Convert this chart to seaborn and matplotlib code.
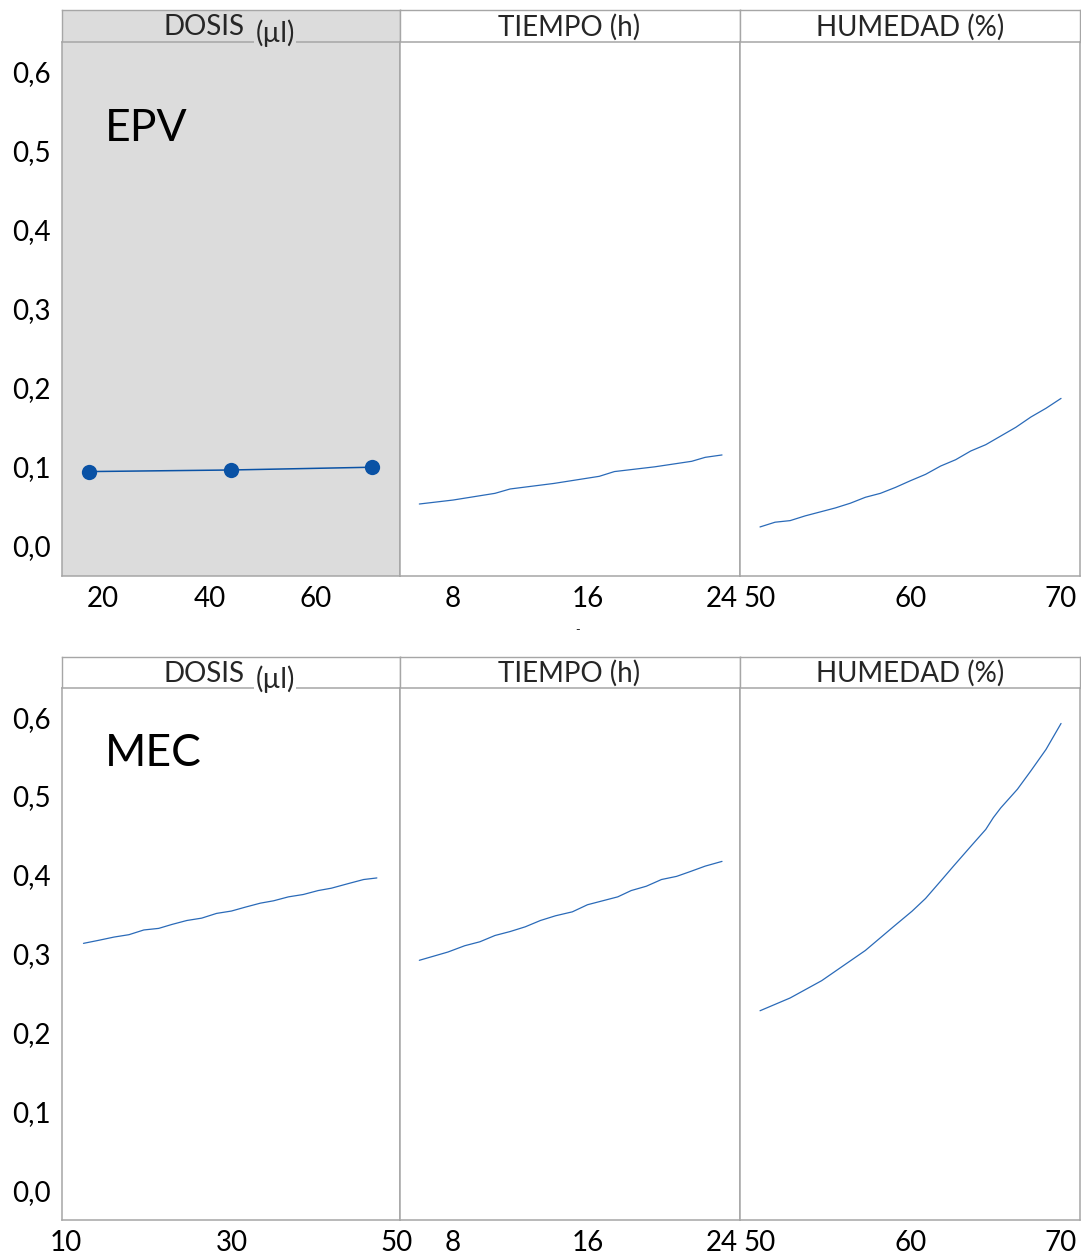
import matplotlib
matplotlib.use("Agg")
import matplotlib.pyplot as plt
import matplotlib.ticker as mticker
import pandas as pd
import seaborn as sns

# ---- data ----
# EPV row
epv_dosis_x = [17.4, 44.0, 70.6]
epv_dosis_y = [0.094, 0.096, 0.0995]

epv_tiempo_x = [6.0, 8.0, 10.5, 11.4, 14.0, 16.7, 17.6, 20.0, 22.2, 23.0, 24.0]
epv_tiempo_y = [0.053, 0.058, 0.0665, 0.072, 0.079, 0.088, 0.094, 0.100, 0.107, 0.112, 0.115]

epv_humedad_x = [50, 51, 52, 53, 54, 55, 56, 57, 58, 59, 60, 61, 62, 63, 64, 65, 66, 67, 68, 69, 70]
epv_humedad_y = [0.024, 0.030, 0.032, 0.038, 0.043, 0.048, 0.054, 0.0615, 0.0665, 0.074, 0.0825,
                 0.0905, 0.101, 0.109, 0.120, 0.128, 0.139, 0.150, 0.163, 0.174, 0.1865]

# MEC row
mec_dosis_x = [12.1, 14.0, 15.8, 17.6, 19.4, 21.2, 22.8, 24.6, 26.4, 28.2, 30.0,
               31.7, 33.5, 35.1, 36.9, 38.7, 40.5, 42.1, 44.2, 46.0, 47.6]
mec_dosis_y = [0.313, 0.317, 0.321, 0.324, 0.330, 0.332, 0.337, 0.342, 0.345, 0.351, 0.354,
               0.359, 0.364, 0.367, 0.372, 0.375, 0.380, 0.383, 0.389, 0.394, 0.396]

mec_tiempo_x = [6.0, 7.7, 8.7, 9.6, 10.5, 11.4, 12.3, 13.2, 14.1, 15.1, 16.0,
                16.9, 17.8, 18.6, 19.5, 20.4, 21.3, 22.1, 23.0, 24.0]
mec_tiempo_y = [0.2915, 0.302, 0.310, 0.315, 0.323, 0.328, 0.334, 0.342, 0.348, 0.353, 0.362,
                0.367, 0.372, 0.380, 0.3855, 0.394, 0.398, 0.404, 0.411, 0.417]

mec_humedad_x = [50, 52, 54.1, 57, 58.9, 60.1, 61, 62, 62.9, 64, 65, 65.5, 66, 67.1, 68, 69, 70]
mec_humedad_y = [0.2275, 0.2437, 0.2657, 0.304, 0.3347, 0.3538, 0.370, 0.392, 0.412, 0.436,
                 0.4576, 0.4725, 0.485, 0.5085, 0.532, 0.559, 0.592]

panel_titles = ["DOSIS", "TIEMPO (h)", "HUMEDAD (%)"]
row_labels = ["EPV", "MEC"]
y_ticks = [0.0, 0.1, 0.2, 0.3, 0.4, 0.5, 0.6]
x_ticks = {
    "epv": [[20, 40, 60], [8, 16, 24], [50, 60, 70]],
    "mec": [[10, 30, 50], [8, 16, 24], [50, 60, 70]],
}
x_lims = {
    "epv": [(12.3, 75.8), (4.85, 25.07), (48.67, 71.26)],
    "mec": [(9.5, 50.4), (4.85, 25.07), (48.67, 71.26)],
}

# ---- style ----
sns.set_theme(style="white")
plt.rcParams["font.family"] = ["Lato", "DejaVu Sans"]

W, H = 1081, 1254
edge = "#a6a6a6"
line_col = "#2a6ab8"
dot_col = "#0a52a5"
shade = "#dcdcdc"
fs = 20

fig = plt.figure(figsize=(W / 100, H / 100), dpi=100)


def box(x0, y0, x1, y1):
    return [x0 / W, 1 - y1 / H, (x1 - x0) / W, (y1 - y0) / H]


xs = [62, 400, 740, 1080]
rows = [
    ("epv", (10, 42), (42, 576)),
    ("mec", (657, 688), (688, 1220)),
]

series = {
    "epv": [(epv_dosis_x, epv_dosis_y), (epv_tiempo_x, epv_tiempo_y), (epv_humedad_x, epv_humedad_y)],
    "mec": [(mec_dosis_x, mec_dosis_y), (mec_tiempo_x, mec_tiempo_y), (mec_humedad_x, mec_humedad_y)],
}

for r, (key, (hy0, hy1), (py0, py1)) in enumerate(rows):
    for c in range(3):
        grey = (key == "epv" and c == 0)
        bg = shade if grey else "white"

        # header strip
        hax = fig.add_axes(box(xs[c], hy0, xs[c + 1], hy1))
        hax.set_facecolor(bg)
        hax.set_xticks([])
        hax.set_yticks([])
        for s in hax.spines.values():
            s.set_color(edge)
            s.set_linewidth(1)
        hax.spines["bottom"].set_visible(False)

        # plot panel
        ax = fig.add_axes(box(xs[c], py0, xs[c + 1], py1))
        ax.set_facecolor(bg)
        x, y = series[key][c]
        df = pd.DataFrame({"x": x, "y": y})
        if grey:
            sns.lineplot(data=df, x="x", y="y", ax=ax, color=dot_col, linewidth=1.1,
                         marker="o", markersize=11, markeredgewidth=0, estimator=None)
        else:
            sns.lineplot(data=df, x="x", y="y", ax=ax, color=line_col, linewidth=0.9,
                         estimator=None)
        ax.set_xlim(*x_lims[key][c])
        ax.set_ylim(-0.038, 0.637)
        ax.set_xticks(x_ticks[key][c])
        ax.set_xlabel("")
        ax.set_ylabel("")
        if c == 0:
            ax.set_yticks(y_ticks)
            ax.yaxis.set_major_formatter(
                mticker.FuncFormatter(lambda v, p: f"{v:.1f}".replace(".", ",")))
        else:
            ax.set_yticks([])
        ax.tick_params(axis="both", which="both", length=6, width=1, color=edge,
                       direction="out", labelsize=fs, colors="black")
        ax.tick_params(axis="both", color=edge)
        ax.tick_params(axis="y", pad=2)
        ax.tick_params(axis="x", pad=1)
        for s in ax.spines.values():
            s.set_color(edge)
            s.set_linewidth(1.1)

        if c == 0:
            ax.text(0.127, 0.838 if key == "epv" else 0.876, row_labels[r], transform=ax.transAxes,
                    fontsize=32, ha="left", va="center", color="black")

    # header texts
    yc = (hy0 + hy1) / 2 + 2
    fig.text(244 / W, 1 - (yc - 1) / H, "DOSIS", ha="right", va="center", fontsize=fs)
    fig.text(275 / W, 1 - (yc + 5) / H, "(µl)", ha="center", va="center", fontsize=fs,
             bbox=dict(boxstyle="square,pad=0.05", fc=shade if key == "epv" else "white", ec="none"))
    fig.text(569 / W, 1 - (yc - 1) / H, panel_titles[1], ha="center", va="center", fontsize=fs)
    fig.text(910 / W, 1 - (yc - 1) / H, panel_titles[2], ha="center", va="center", fontsize=fs)

# stray mark under the top row
fig.text(578 / W, 1 - 630 / H, "-", ha="center", va="center", fontsize=9)

fig.savefig("out.png", dpi=100)
